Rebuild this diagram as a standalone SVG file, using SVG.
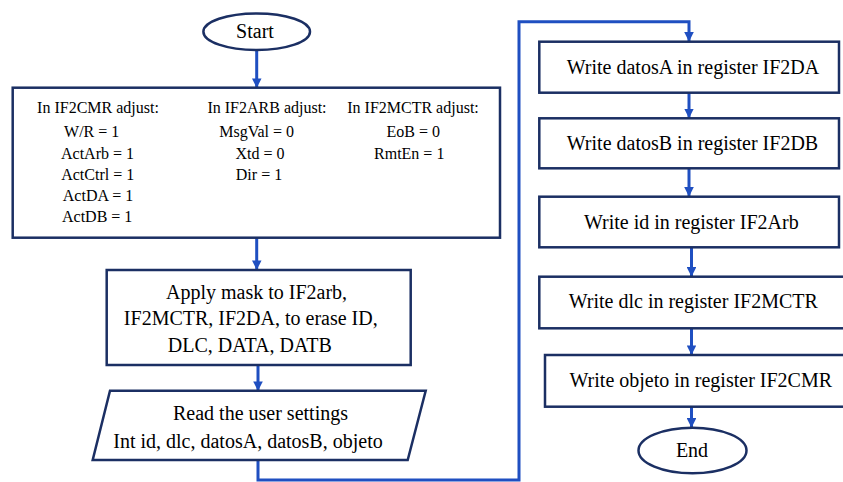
<svg xmlns="http://www.w3.org/2000/svg" width="843" height="482" viewBox="0 0 843 482">
  <defs>
    <marker id="arrow" viewBox="0 0 10 10" refX="10" refY="5" markerWidth="3.2" markerHeight="3.2" orient="auto" markerUnits="strokeWidth">
      <path d="M0,0 L10,5 L0,10 Z" fill="#1f4fc1"/>
    </marker>
  </defs>
  <style>
    .shape { fill: #ffffff; stroke: #1b2f63; stroke-width: 2.5; }
    .t { font-family: "Liberation Serif", "Times New Roman", serif; fill: #000000; text-anchor: middle; }
    .big { font-size: 20px; }
    .small { font-size: 16px; }
    .conn { fill: none; stroke: #1f4fc1; stroke-width: 3; }
  </style>
  <rect width="843" height="482" fill="#ffffff"/>

  <!-- flow connectors -->
  <g id="connectors">
    <path class="conn" d="M256.7,50 V88" marker-end="url(#arrow)"/>
    <path class="conn" d="M256.7,238 V270" marker-end="url(#arrow)"/>
    <path class="conn" d="M258,365 V391" marker-end="url(#arrow)"/>
    <path class="conn" d="M258,460 V480 H519 V21.7 H689 V41.7" marker-end="url(#arrow)"/>
    <path class="conn" d="M689,92.7 V118.3" marker-end="url(#arrow)"/>
    <path class="conn" d="M689,168.3 V196.7" marker-end="url(#arrow)"/>
    <path class="conn" d="M691.5,247.3 V276.7" marker-end="url(#arrow)"/>
    <path class="conn" d="M691.5,328.3 V355" marker-end="url(#arrow)"/>
    <path class="conn" d="M691.5,406.7 V427.7" marker-end="url(#arrow)"/>
  </g>

  <g id="start">
    <ellipse class="shape" cx="256.7" cy="31.7" rx="53.3" ry="18.3"/>
    <text class="t big" x="255" y="38">Start</text>
  </g>

  <g id="adjust">
    <rect class="shape" x="12.7" y="87.7" width="487.3" height="150"/>
    <text class="t small" x="98" y="113">In IF2CMR adjust:</text>
    <text class="t small" x="91.7" y="137">W/R = 1</text>
    <text class="t small" x="97.5" y="159">ActArb = 1</text>
    <text class="t small" x="97.7" y="180">ActCtrl = 1</text>
    <text class="t small" x="98" y="201">ActDA = 1</text>
    <text class="t small" x="97.2" y="222">ActDB = 1</text>
    <text class="t small" x="267" y="113">In IF2ARB adjust:</text>
    <text class="t small" x="256.7" y="137">MsgVal = 0</text>
    <text class="t small" x="260" y="159">Xtd = 0</text>
    <text class="t small" x="259" y="180">Dir = 1</text>
    <text class="t small" x="413" y="113">In IF2MCTR adjust:</text>
    <text class="t small" x="413.3" y="137">EoB = 0</text>
    <text class="t small" x="409.2" y="159">RmtEn = 1</text>
  </g>

  <g id="mask">
    <rect class="shape" x="106.7" y="270" width="304" height="95"/>
    <text class="t big" x="256.5" y="298.5">Apply mask to IF2arb,</text>
    <text class="t big" x="250.8" y="325">IF2MCTR, IF2DA, to erase ID,</text>
    <text class="t big" x="249.8" y="351.7">DLC, DATA, DATB</text>
  </g>

  <g id="read">
    <polygon class="shape" points="110,390.7 425.7,390.7 407.7,460 92.7,460"/>
    <text class="t big" x="260.5" y="420">Read the user settings</text>
    <text class="t big" x="248" y="448">Int id, dlc, datosA, datosB, objeto</text>
  </g>

  <g id="write-datosA">
    <rect class="shape" x="539.3" y="41.7" width="299.7" height="51"/>
    <text class="t big" x="693" y="73.5">Write datosA in register IF2DA</text>
  </g>

  <g id="write-datosB">
    <rect class="shape" x="539.3" y="118.3" width="299.7" height="50"/>
    <text class="t big" x="692.5" y="150">Write datosB in register IF2DB</text>
  </g>

  <g id="write-id">
    <rect class="shape" x="539.3" y="196.7" width="299.7" height="50.6"/>
    <text class="t big" x="691.3" y="228.5">Write id in register IF2Arb</text>
  </g>

  <g id="write-dlc">
    <rect class="shape" x="539.3" y="276.7" width="306" height="51.6"/>
    <text class="t big" x="693.3" y="308">Write dlc in register IF2MCTR</text>
  </g>

  <g id="write-objeto">
    <rect class="shape" x="545" y="355" width="300" height="51.7"/>
    <text class="t big" x="700.8" y="387">Write objeto in register IF2CMR</text>
  </g>

  <g id="end">
    <ellipse class="shape" cx="692.5" cy="450.5" rx="54" ry="22.8"/>
    <text class="t big" x="692" y="457">End</text>
  </g>
</svg>
